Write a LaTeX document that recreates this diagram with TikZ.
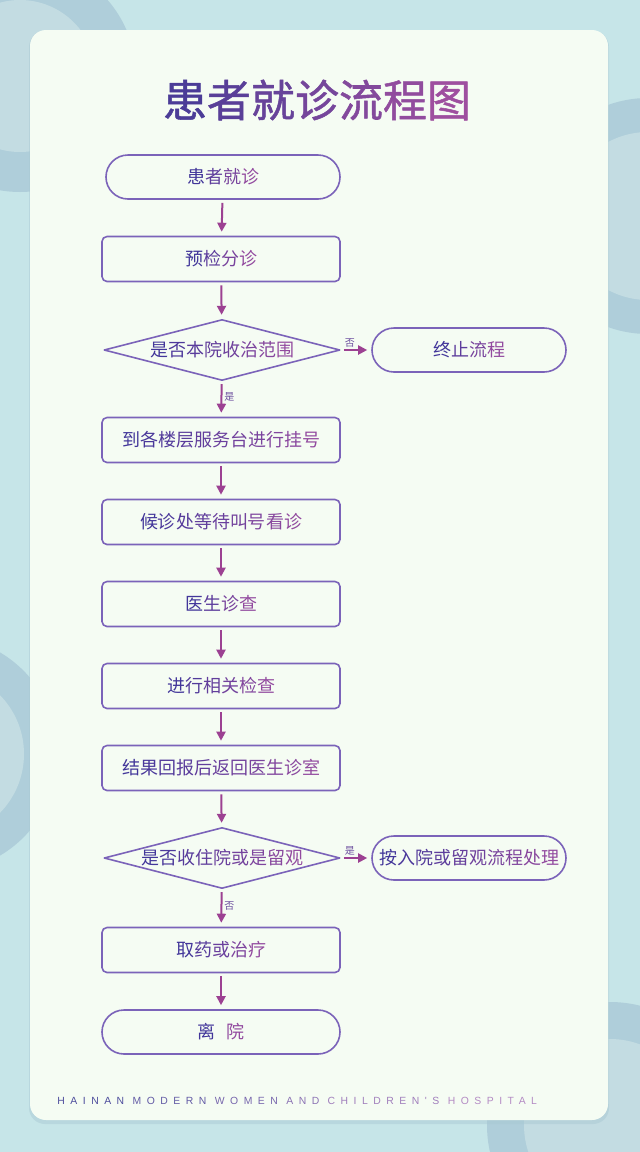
\documentclass[tikz,border=0pt]{standalone}
\usepackage{fontspec}
\newfontfamily\cjk{Noto Sans CJK SC}
\newfontfamily\cjkhead[FakeBold=1.2]{Noto Sans CJK SC}
\newfontfamily\mottofont[LetterSpace=53]{Liberation Sans}
\usepackage{tikz}
\usetikzlibrary{arrows.meta,positioning,shapes.geometric,shapes.misc}
\definecolor{pageblue}{HTML}{C6E5E8}
\definecolor{ringout}{HTML}{AFCEDA}
\definecolor{ringin}{HTML}{C3DCE2}
\definecolor{cardbg}{HTML}{F5FCF3}
\definecolor{cardshade}{HTML}{A8C8D2}
\definecolor{frameink}{HTML}{7B63B9}
\definecolor{arrowink}{HTML}{9C4192}
\definecolor{textA}{HTML}{42369A}
\definecolor{textB}{HTML}{924A9F}
\definecolor{titleA}{HTML}{4B3C97}
\definecolor{titleB}{HTML}{9E4F9F}
\definecolor{tagink}{HTML}{6D4F9F}
\definecolor{footA}{HTML}{4E4D9D}
\definecolor{footB}{HTML}{B48BC4}
% colour each item of #3 from #1 to #2
\newcommand\gradtext[3]{%
  \foreach \ch [count=\n] in {#3}{\xdef\gradlast{\n}}%
  \foreach \ch [count=\i] in {#3}{%
    \pgfmathtruncatemacro\gradp{\gradlast>1 ? 100-100*(\i-1)/(\gradlast-1) : 100}%
    \textcolor{#1!\gradp!#2}{\ch}}}

\begin{document}
\begin{tikzpicture}[x=0.5pt,y=-0.5pt,line join=round,
  base/.style={draw=frameink,line width=0.8pt,inner sep=0pt,
    font=\cjk\fontsize{9pt}{9pt}\selectfont},
  stepbox/.style={base,rounded corners=2.5pt,minimum width=119pt,minimum height=22.5pt},
  endbox/.style={base,rounded rectangle,minimum width=119pt,minimum height=22pt},
  sidebox/.style={base,rounded rectangle,minimum width=97pt,minimum height=22pt},
  choice/.style={base,diamond,aspect=3.87,minimum width=118pt,minimum height=30.5pt},
  flow/.style={draw=arrowink,line width=1pt,-{Triangle[length=4.5pt,width=4.5pt]},
    shorten <=1.5pt,shorten >=2pt},
  tag/.style={font=\cjk\fontsize{5pt}{5pt}\selectfont,text=tagink,inner sep=1pt}]
\path[use as bounding box] (0,0) rectangle (640,1152);
\fill[pageblue] (0,0) rectangle (640,1152);

% background rings
\begin{scope}
  \clip (0,0) rectangle (640,1152);
  \fill[ringout] (20,76) circle[radius=116];
  \fill[ringin] (20,76) circle[radius=76];
  \fill[ringout] (648,216) circle[radius=118];
  \fill[ringin] (648,216) circle[radius=84];
  \fill[ringout] (-60,754) circle[radius=118];
  \fill[ringin] (-60,754) circle[radius=84];
  \fill[ringout] (610,1125) circle[radius=123];
  \fill[ringin] (610,1125) circle[radius=86];
\end{scope}

% card
\fill[cardshade,opacity=.45,rounded corners=8pt] (29,31) rectangle (609,1124);
\fill[cardbg,rounded corners=8pt] (30,30) rectangle (608,1120);

\node[font=\cjkhead\fontsize{22pt}{22pt}\selectfont] (title) at (317,100)
  {\gradtext{titleA}{titleB}{患,者,就,诊,流,程,图}};

% main column
\node[endbox,minimum width=117pt] (visit) at (223,177) {\gradtext{textA}{textB}{患,者,就,诊}};
\node[stepbox] (triage) at (221,259) {\gradtext{textA}{textB}{预,检,分,诊}};
\node[choice] (scope) at (222,350) {\gradtext{textA}{textB}{是,否,本,院,收,治,范,围}};
\node[sidebox] (stop) at (469,350) {\gradtext{textA}{textB}{终,止,流,程}};
\node[stepbox] (register) at (221,440) {\gradtext{textA}{textB}{到,各,楼,层,服,务,台,进,行,挂,号}};
\node[stepbox] (wait) at (221,522) {\gradtext{textA}{textB}{候,诊,处,等,待,叫,号,看,诊}};
\node[stepbox] (doctor) at (221,604) {\gradtext{textA}{textB}{医,生,诊,查}};
\node[stepbox] (exam) at (221,686) {\gradtext{textA}{textB}{进,行,相,关,检,查}};
\node[stepbox] (report) at (221,768) {\gradtext{textA}{textB}{结,果,回,报,后,返,回,医,生,诊,室}};
\node[choice] (admit) at (222,858) {\gradtext{textA}{textB}{是,否,收,住,院,或,是,留,观}};
\node[sidebox] (ward) at (469,858) {\gradtext{textA}{textB}{按,入,院,或,留,观,流,程,处,理}};
\node[stepbox] (drug) at (221,950) {\gradtext{textA}{textB}{取,药,或,治,疗}};
\node[endbox] (leave) at (221,1032) {\gradtext{textA}{textB}{离,\hspace{0.6em},院}};

% connectors
\draw[flow] (visit) -- (triage);
\draw[flow] (triage) -- (scope);
\draw[flow] (scope) -- node[tag,above,pos=.3] {否} (stop);
\draw[flow] (scope) -- node[tag,right,pos=.45] {是} (register);
\draw[flow] (register) -- (wait);
\draw[flow] (wait) -- (doctor);
\draw[flow] (doctor) -- (exam);
\draw[flow] (exam) -- (report);
\draw[flow] (report) -- (admit);
\draw[flow] (admit) -- node[tag,above,pos=.3] {是} (ward);
\draw[flow] (admit) -- node[tag,right,pos=.45] {否} (drug);
\draw[flow] (drug) -- (leave);

\node[anchor=west,inner sep=0pt,font=\mottofont\fontsize{5.2pt}{5.2pt}\selectfont] (motto) at (57,1101)
  {\gradtext{footA}{footB}{HAINAN\ ,MODERN\ ,WOMEN\ ,AND\ ,CHILDREN'S\ ,HOSPITAL}};
\end{tikzpicture}
\end{document}
